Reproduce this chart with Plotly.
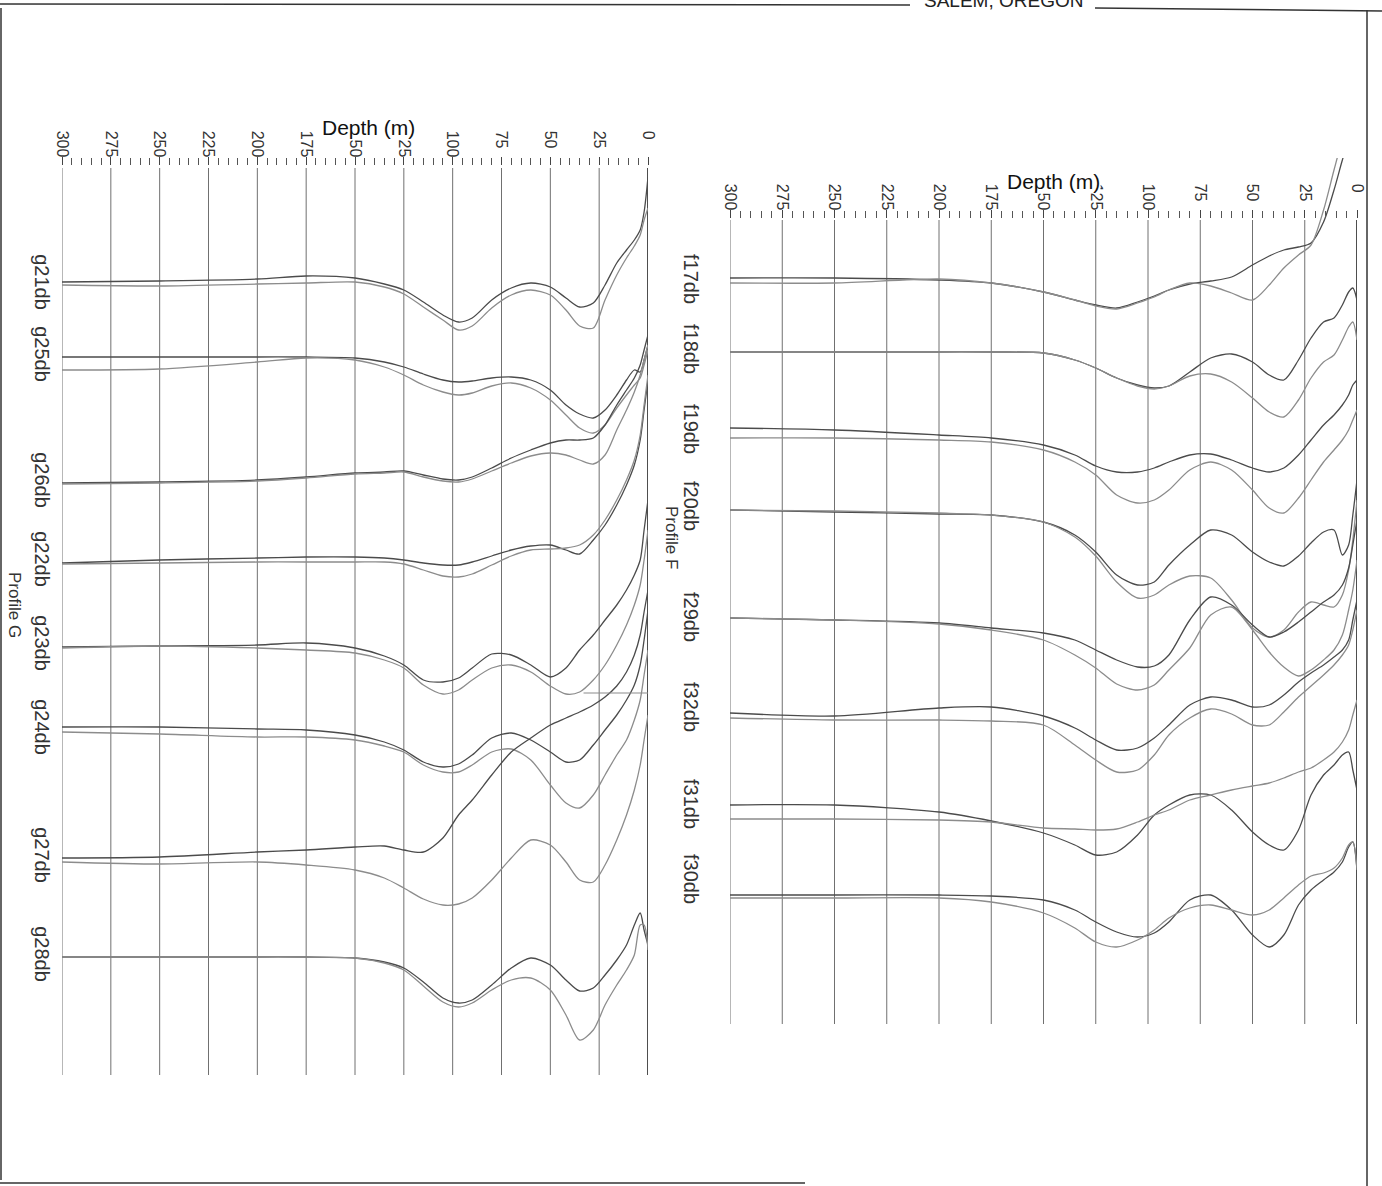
import plotly.graph_objects as go

W, H = 1382, 1186

# ---------------- data ----------------
DEPTH = [300, 250, 200, 175, 150, 135, 125, 115, 105, 97, 90, 80, 70, 60, 50, 42, 35, 28, 22, 16, 11, 7, 4, 2, 0]
DEPTH_TICKS = [0, 25, 50, 75, 100, 125, 150, 175, 200, 225, 250, 275, 300]

# Profile G (left panel) - station label positions (trace offset units)
G_NAMES = ["g21db", "g25db", "g26db", "g22db", "g23db", "g24db", "g27db", "g28db"]
G_POS = [285, 357, 483, 562, 646, 730, 858, 957]

g21db_a = [282, 281, 279, 276, 278, 284, 290, 302, 315, 322, 318, 300, 288, 283, 287, 298, 307, 303, 285, 263, 250, 240, 230, 212, 177]
g21db_b = [285, 286, 284, 283, 282, 287, 294, 307, 320, 330, 326, 308, 295, 290, 295, 310, 326, 328, 300, 275, 258, 246, 235, 220, 208]
g25db_a = [357, 357, 357, 357, 358, 362, 367, 374, 380, 382, 381, 378, 377, 380, 390, 405, 414, 418, 410, 395, 380, 370, 372, 360, 345]
g25db_b = [370, 369, 362, 358, 360, 367, 375, 385, 392, 395, 393, 386, 383, 388, 400, 415, 428, 433, 425, 408, 395, 385, 378, 365, 350]
g26db_a = [483, 482, 480, 477, 473, 472, 471, 475, 479, 480, 477, 468, 458, 450, 443, 440, 440, 438, 425, 405, 390, 378, 365, 350, 335]
g26db_b = [484, 483, 481, 478, 474, 473, 472, 477, 481, 482, 479, 471, 463, 456, 453, 455, 460, 464, 455, 430, 410, 392, 375, 360, 345]
g22db_a = [563, 560, 558, 557, 557, 558, 560, 563, 565, 565, 562, 556, 550, 546, 545, 550, 554, 540, 525, 505, 485, 465, 440, 410, 380]
g22db_b = [564, 563, 562, 562, 562, 562, 564, 570, 576, 577, 574, 565, 556, 550, 549, 548, 545, 535, 520, 500, 480, 460, 435, 405, 375]
g23db_a = [647, 646, 645, 643, 648, 656, 665, 680, 682, 678, 668, 654, 655, 665, 677, 668, 650, 635, 620, 605, 590, 575, 560, 530, 500]
g23db_b = [648, 646, 648, 650, 653, 660, 668, 685, 694, 690, 680, 668, 665, 672, 686, 694, 692, 680, 665, 645, 625, 605, 585, 560, 530]
g24db_a = [727, 727, 729, 730, 735, 742, 750, 762, 767, 764, 755, 738, 733, 740, 752, 762, 760, 745, 730, 715, 700, 685, 665, 640, 610]
g24db_b = [732, 734, 737, 737, 740, 746, 752, 765, 772, 772, 765, 752, 749, 760, 785, 803, 808, 795, 775, 755, 740, 720, 700, 675, 650]
g27db_a = [858, 857, 852, 850, 847, 846, 850, 852, 838, 815, 800, 775, 752, 738, 725, 718, 712, 705, 697, 686, 672, 655, 635, 612, 590]
g27db_b = [862, 864, 862, 865, 870, 878, 888, 899, 905, 904, 898, 880, 858, 840, 845, 862, 880, 882, 865, 840, 815, 790, 765, 740, 715]
g28db_a = [957, 957, 957, 957, 958, 962, 968, 982, 998, 1003, 1000, 985, 968, 958, 965, 980, 991, 988, 975, 960, 945, 925, 913, 930, 945]
g28db_b = [957, 957, 957, 957, 958, 963, 970, 986, 1002, 1007, 1003, 990, 980, 978, 990, 1015, 1040, 1030, 1005, 985, 970, 955, 925, 925, 950]
G23_MARK_DEPTH = [33, 0]
G23_MARK_VAL = [693, 693]

# Profile F (right panel)
F_NAMES = ["f17db", "f18db", "f19db", "f20db", "f29db", "f32db", "f31db", "f30db"]
F_POS = [282, 352, 432, 509, 620, 710, 807, 882]

f17db_a = [278, 278, 280, 283, 292, 300, 305, 308, 302, 296, 290, 284, 281, 277, 265, 256, 250, 247, 243, 222, 190, 160, 140, 130, 120]
f17db_b = [283, 283, 279, 283, 292, 300, 306, 309, 303, 297, 290, 283, 286, 293, 300, 285, 268, 255, 245, 210, 170, 140, 125, 120, 115]
f18db_a = [352, 352, 352, 352, 353, 360, 368, 378, 385, 388, 386, 372, 358, 354, 362, 375, 380, 360, 338, 322, 318, 305, 292, 288, 300]
f18db_b = [352, 352, 352, 352, 353, 360, 368, 378, 386, 389, 386, 376, 374, 382, 398, 412, 417, 400, 378, 362, 355, 340, 327, 322, 340]
f19db_a = [428, 430, 435, 438, 445, 455, 466, 472, 472, 468, 462, 455, 454, 460, 468, 472, 468, 455, 440, 425, 415, 405, 395, 385, 380]
f19db_b = [438, 438, 440, 442, 450, 462, 475, 495, 503, 500, 490, 470, 462, 470, 490, 508, 513, 498, 480, 462, 450, 440, 430, 420, 410]
f20db_a = [510, 512, 514, 515, 522, 535, 552, 575, 585, 582, 565, 545, 530, 535, 552, 562, 566, 556, 543, 532, 530, 555, 545, 515, 480]
f20db_b = [510, 511, 513, 515, 522, 537, 556, 582, 598, 595, 585, 576, 578, 600, 628, 637, 630, 612, 602, 605, 607, 595, 570, 540, 500]
f29db_a = [618, 620, 623, 628, 633, 640, 650, 660, 667, 666, 655, 620, 597, 605, 625, 637, 632, 622, 612, 602, 595, 585, 568, 545, 520]
f29db_b = [618, 620, 624, 630, 640, 655, 668, 684, 690, 685, 670, 648, 615, 607, 630, 652, 667, 676, 670, 660, 650, 635, 610, 590, 560]
f32db_a = [713, 716, 708, 707, 716, 728, 740, 750, 748, 738, 725, 705, 697, 700, 707, 705, 695, 682, 673, 665, 657, 650, 640, 620, 600]
f32db_b = [718, 720, 720, 721, 725, 745, 760, 772, 770, 755, 735, 718, 709, 714, 725, 725, 712, 697, 686, 675, 665, 655, 645, 630, 610]
f31db_a = [805, 805, 812, 821, 833, 845, 855, 852, 835, 815, 805, 795, 795, 810, 832, 845, 850, 830, 795, 775, 765, 755, 752, 770, 790]
f31db_b = [819, 819, 820, 822, 828, 829, 830, 829, 822, 815, 810, 800, 795, 790, 786, 783, 778, 772, 768, 760, 752, 742, 730, 715, 700]
f30db_a = [895, 895, 895, 896, 900, 910, 922, 932, 937, 933, 922, 900, 895, 910, 935, 947, 935, 905, 890, 880, 872, 862, 847, 842, 870]
f30db_b = [898, 898, 898, 902, 913, 928, 942, 947, 940, 930, 918, 908, 905, 910, 915, 910, 898, 885, 876, 873, 868, 858, 845, 842, 870]

G_CURVES = [(g21db_a, g21db_b), (g25db_a, g25db_b), (g26db_a, g26db_b), (g22db_a, g22db_b),
            (g23db_a, g23db_b), (g24db_a, g24db_b), (g27db_a, g27db_b), (g28db_a, g28db_b)]
F_CURVES = [(f17db_a, f17db_b), (f18db_a, f18db_b), (f19db_a, f19db_b), (f20db_a, f20db_b),
            (f29db_a, f29db_b), (f32db_a, f32db_b), (f31db_a, f31db_b), (f30db_a, f30db_b)]

# ---------------- layout helpers ----------------
def px(x):
    return x / W

def py(y):
    return 1 - y / H

DARK = "#4b4b4b"
LIGHT = "#8c8c8c"
FONT = "Liberation Sans, Arial, sans-serif"

fig = go.Figure()

def add_panel(curves, names, xa, ya):
    for name, (a, b) in zip(names, curves):
        fig.add_trace(go.Scatter(x=DEPTH, y=a, mode="lines", name=name + " (1)",
                                 line=dict(color=DARK, width=1.3, shape="spline", smoothing=0.8),
                                 xaxis=xa, yaxis=ya, showlegend=False, hoverinfo="skip"))
        fig.add_trace(go.Scatter(x=DEPTH, y=b, mode="lines", name=name + " (2)",
                                 line=dict(color=LIGHT, width=1.3, shape="spline", smoothing=0.8),
                                 xaxis=xa, yaxis=ya, showlegend=False, hoverinfo="skip"))

add_panel(G_CURVES, G_NAMES, "x", "y")
add_panel(F_CURVES, F_NAMES, "x2", "y2")
fig.add_trace(go.Scatter(x=G23_MARK_DEPTH, y=G23_MARK_VAL, mode="lines",
                         line=dict(color=LIGHT, width=1.2), xaxis="x", yaxis="y",
                         showlegend=False, hoverinfo="skip"))

# panel geometry (pixels)
L_X0, L_X1, L_AXIS, L_BOT = 62, 648, 166, 1075
R_X0, R_X1, R_AXIS, R_BOT = 730, 1357, 218, 1024

shapes = []
for d in DEPTH_TICKS:
    for xr, yr, top, bot in (("x", "y", L_AXIS, L_BOT), ("x2", "y2", R_AXIS, R_BOT)):
        shapes.append(dict(type="line", xref=xr, yref=yr, x0=d, x1=d, y0=top + 2, y1=bot,
                           line=dict(color="#222" if d == 0 else "#707070",
                                     width=1.6 if d == 0 else 1), layer="below"))

# page frame
frame = [(0, 4, 910, 5), (1095, 8, 1382, 11), (1, 8, 1, 1180), (1367, 10, 1367, 1186), (0, 1183, 805, 1183)]
for x0, y0, x1, y1 in frame:
    shapes.append(dict(type="line", xref="paper", yref="paper", x0=px(x0), y0=py(y0), x1=px(x1), y1=py(y1),
                       line=dict(color="#333", width=1.5)))

def tick_text(v):
    s = str(v)
    return s + "\u00a0" * (2 * (3 - len(s)))

xcommon = dict(range=[300, 0], side="top", tickmode="array", tickvals=DEPTH_TICKS,
               ticktext=[tick_text(v) for v in DEPTH_TICKS], tickangle=90,
               ticks="outside", ticklen=8, tickcolor="#444", tickwidth=1, ticklabelstandoff=-6,
               minor=dict(tickmode="linear", tick0=0, dtick=5, ticks="outside", ticklen=7,
                          tickcolor="#555", tickwidth=1, showgrid=False),
               showgrid=False, zeroline=False, showline=False, automargin=False,
               tickfont=dict(family=FONT, size=16, color="#333"))

ycommon = dict(tickmode="array", tickangle=90, ticks="", showgrid=False, zeroline=False,
               showline=False, automargin=False, tickfont=dict(family=FONT, size=20, color="#333"))

def note(text, x, y, size, angle=0, bg=None, color="#333"):
    d = dict(text=text, x=px(x), y=py(y), xref="paper", yref="paper", showarrow=False,
             xanchor="center", yanchor="middle", textangle=angle,
             font=dict(family=FONT, size=size, color=color), borderpad=0)
    if bg:
        d["bgcolor"] = bg
    return d

fig.update_layout(
    width=W, height=H, margin=dict(l=0, r=0, t=0, b=0),
    paper_bgcolor="white", plot_bgcolor="white", showlegend=False,
    xaxis=dict(domain=[px(L_X0), px(L_X1)], anchor="y", **xcommon),
    yaxis=dict(domain=[py(L_BOT + 5), py(L_AXIS)], range=[L_BOT + 5, L_AXIS], anchor="x",
               tickvals=G_POS, ticktext=G_NAMES, ticklabelstandoff=6, **ycommon),
    xaxis2=dict(domain=[px(R_X0), px(R_X1)], anchor="free", position=py(R_AXIS), **xcommon),
    yaxis2=dict(domain=[py(R_BOT + 16), py(158)], range=[R_BOT + 16, 158], anchor="x2",
                tickvals=F_POS, ticktext=F_NAMES, ticklabelstandoff=25, **ycommon),
    shapes=shapes,
    annotations=[
        note("Depth (m)", 368, 127, 21, bg="white", color="#111"),
        note("Depth (m)", 1053, 182, 21, bg="white", color="#111"),
        note("Profile G", 15, 605, 17, angle=90),
        note("Profile F", 671, 537, 17, angle=90),
        note("SALEM, OREGON", 1003, 0, 19, bg="white", color="#222"),
    ],
)

fig.write_html("out.html", config={"displayModeBar": False},
               post_script="document.body.style.margin='0px';document.body.style.overflow='hidden';")
